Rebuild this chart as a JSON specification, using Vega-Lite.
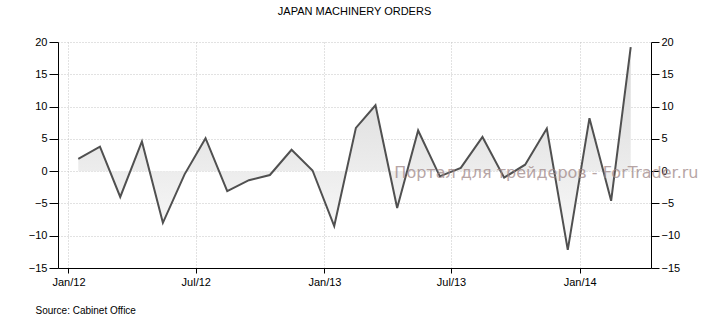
{
  "$schema": "https://vega.github.io/schema/vega-lite/v6.json",
  "width": 593,
  "height": 226,
  "autosize": {"type": "none"},
  "padding": {"left": 58, "top": 42, "right": 59, "bottom": 57},
  "background": "white",
  "title": {
    "text": "JAPAN MACHINERY ORDERS",
    "frame": "group",
    "anchor": "middle",
    "offset": 19,
    "font": "Liberation Sans",
    "fontSize": 11,
    "fontWeight": "normal",
    "color": "#000000"
  },
  "config": {
    "view": {"stroke": null},
    "axis": {
      "domainColor": "#000000",
      "domainWidth": 1,
      "tickColor": "#000000",
      "labelColor": "#000000",
      "labelFont": "Liberation Sans",
      "labelFontSize": 11,
      "labelOverlap": false,
      "labelBound": false,
      "labelFlush": false,
      "gridColor": "#c4c4c4",
      "gridDash": [1, 2],
      "gridWidth": 1
    }
  },
  "data": {
    "values": [
      {"date": "2012-01-15", "value": 1.9},
      {"date": "2012-02-15", "value": 3.8},
      {"date": "2012-03-15", "value": -4.0},
      {"date": "2012-04-15", "value": 4.6},
      {"date": "2012-05-15", "value": -8.0},
      {"date": "2012-06-15", "value": -0.5},
      {"date": "2012-07-15", "value": 5.1},
      {"date": "2012-08-15", "value": -3.1},
      {"date": "2012-09-15", "value": -1.4},
      {"date": "2012-10-15", "value": -0.6},
      {"date": "2012-11-15", "value": 3.3},
      {"date": "2012-12-15", "value": 0.1},
      {"date": "2013-01-15", "value": -8.5},
      {"date": "2013-02-15", "value": 6.7},
      {"date": "2013-03-15", "value": 10.2},
      {"date": "2013-04-15", "value": -5.7},
      {"date": "2013-05-15", "value": 6.3},
      {"date": "2013-06-15", "value": -0.8},
      {"date": "2013-07-15", "value": 0.5},
      {"date": "2013-08-15", "value": 5.3},
      {"date": "2013-09-15", "value": -1.0},
      {"date": "2013-10-15", "value": 1.0},
      {"date": "2013-11-15", "value": 6.6},
      {"date": "2013-12-15", "value": -12.2},
      {"date": "2014-01-15", "value": 8.2},
      {"date": "2014-02-15", "value": -4.6},
      {"date": "2014-03-15", "value": 19.2}
    ]
  },
  "encoding": {
    "x": {
      "field": "date",
      "type": "temporal",
      "scale": {
        "type": "utc",
        "domain": [
          {"year": 2011, "month": 12, "date": 17, "utc": true},
          {"year": 2014, "month": 4, "date": 13, "utc": true}
        ]
      },
      "axis": {
        "values": [
          {"year": 2012, "month": 1, "date": 1, "utc": true},
          {"year": 2012, "month": 7, "date": 1, "utc": true},
          {"year": 2013, "month": 1, "date": 1, "utc": true},
          {"year": 2013, "month": 7, "date": 1, "utc": true},
          {"year": 2014, "month": 1, "date": 1, "utc": true}
        ],
        "labelExpr": "utcFormat(datum.value, '%b/%y')",
        "tickSize": 5,
        "labelPadding": 3,
        "grid": true,
        "title": "Source: Cabinet Office",
        "titleFont": "Liberation Sans",
        "titleFontSize": 10,
        "titleFontWeight": "normal",
        "titleColor": "#000000",
        "titleAnchor": "start",
        "titleAlign": "left",
        "titleBaseline": "middle",
        "titleX": -23,
        "titleY": 42
      }
    }
  },
  "layer": [
    {
      "encoding": {
        "y": {
          "field": "value",
          "type": "quantitative",
          "scale": {"domain": [-15, 20], "nice": false, "zero": false},
          "axis": {
            "orient": "left",
            "values": [-15, -10, -5, 0, 5, 10, 15, 20],
            "tickSize": 9,
            "labelPadding": 2,
            "labelOverlap": false,
            "grid": true,
            "title": null
          }
        }
      },
      "layer": [
        {
          "mark": {
            "type": "area",
            "color": {
              "gradient": "linear",
              "x1": 0, "y1": 0, "x2": 0, "y2": 1,
              "stops": [
                {"offset": 0, "color": "#d6d6d6"},
                {"offset": 1, "color": "#fbfbfb"}
              ]
            }
          },
          "encoding": {
            "y2": {"datum": 0}
          }
        },
        {
          "mark": {"type": "line", "color": "#505050", "strokeWidth": 2},
          "encoding": {}
        },
        {
          "transform": [{"filter": {"field": "value", "equal": 19.2}}],
          "mark": {
            "type": "text",
            "text": "Портал для трейдеров - ForTrader.ru",
            "font": "DejaVu Sans",
            "fontSize": 16,
            "align": "left",
            "baseline": "middle",
            "color": "#a08888",
            "opacity": 0.75
          },
          "encoding": {
            "x": {"datum": {"year": 2013, "month": 4, "date": 11, "utc": true}, "type": "temporal"},
            "y": {"datum": -0.35, "type": "quantitative"}
          }
        }
      ]
    },
    {
      "mark": {"type": "line", "opacity": 0},
      "encoding": {
        "y": {
          "field": "value",
          "type": "quantitative",
          "scale": {"domain": [-15, 20], "nice": false, "zero": false},
          "axis": {
            "orient": "right",
            "values": [-15, -10, -5, 0, 5, 10, 15, 20],
            "tickSize": 8,
            "labelPadding": 2,
            "labelOverlap": false,
            "grid": false,
            "title": null
          }
        }
      }
    }
  ],
  "resolve": {"scale": {"y": "independent"}, "axis": {"y": "independent"}}
}
